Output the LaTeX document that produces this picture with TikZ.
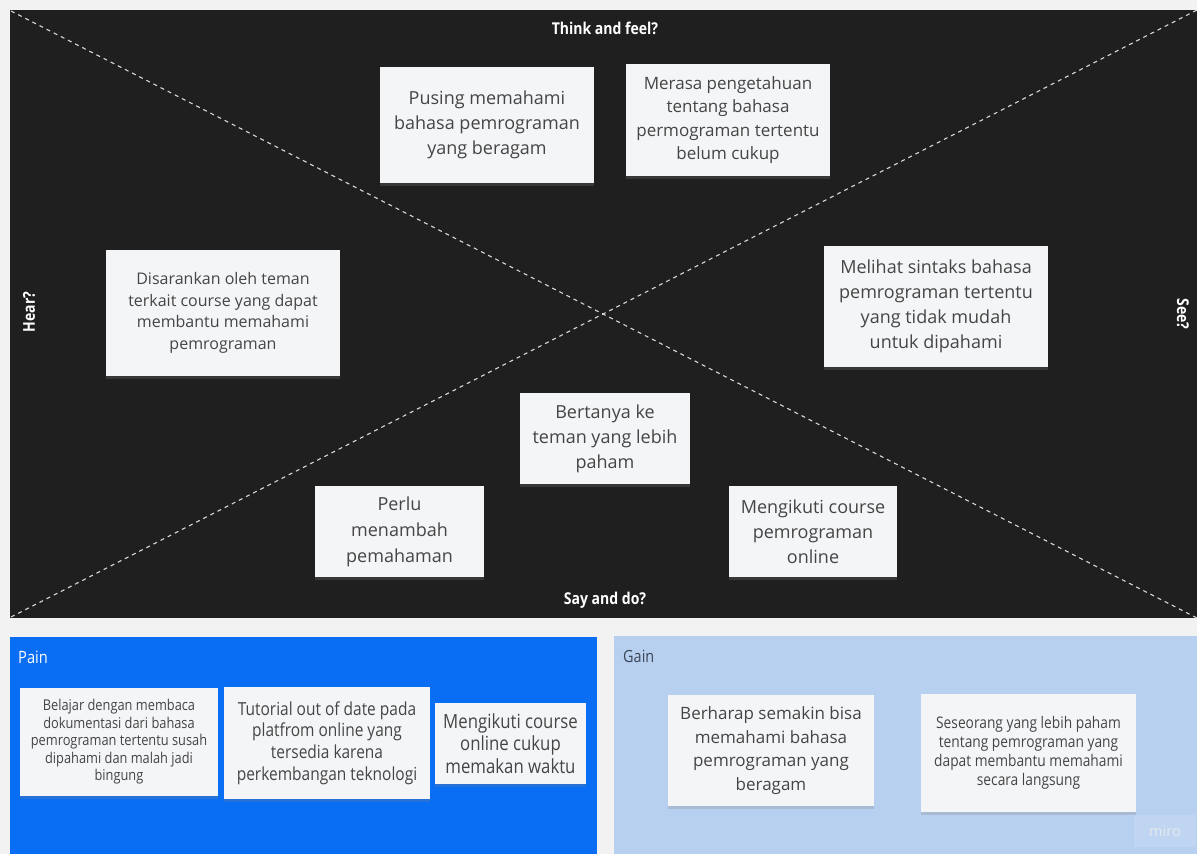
\documentclass[tikz,border=0pt]{standalone}
\usepackage{fontspec}
\setmainfont{Open Sans}
\newfontfamily\condfont[FakeStretch=0.86]{Open Sans}
\usetikzlibrary{shadows}
\definecolor{bg}{HTML}{F2F2F2}
\definecolor{darkpanel}{HTML}{1F1F1F}
\definecolor{painblue}{HTML}{0A6EF5}
\definecolor{gainblue}{HTML}{B7D0F0}
\definecolor{notefill}{HTML}{F4F5F7}
\definecolor{notetext}{HTML}{454545}
\definecolor{gaintext}{HTML}{3B4656}
\definecolor{dashcol}{HTML}{D8D8D8}
\tikzset{
  note/.style={fill=notefill, text=notetext, align=center, inner sep=0pt,
    drop shadow={opacity=0.25, shadow xshift=0pt, shadow yshift=-3pt}},
  diag/.style={draw=dashcol, dash pattern=on 4pt off 4pt, line width=1.1pt},
  title/.style={text=white, font=\condfont\bfseries\fontsize{16.3}{19}\selectfont, inner sep=0pt},
}
\begin{document}
\begin{tikzpicture}[x=1pt,y=-1pt]
\fill[bg] (0,0) rectangle (1197,854);
\useasboundingbox (0,0) rectangle (1197,854);
% panels
\fill[darkpanel] (10,10) rectangle (1197,618);
\fill[painblue] (10,637) rectangle (597,854);
\fill[gainblue] (614,636) rectangle (1197,854);
% diagonals
\coordinate (tl) at (11,11);
\coordinate (br) at (1197,618);
\coordinate (bl) at (11,617);
\coordinate (tr) at (1197,10);
\draw[diag] (tl) -- (br);
\draw[diag] (bl) -- (tr);
% quadrant titles
\node[title] (think) at (605,28) {Think and feel?};
\node[title] (say) at (605,600) {Say and do?};
\node[title, rotate=90] (hear) at (29,312) {Hear?};
\node[title, rotate=-90] (see) at (1183,314) {See?};
% notes in empathy map
\node[note, minimum width=214pt, minimum height=116pt, font=\fontsize{18}{25}\selectfont] (n1) at (487,125)
  {Pusing memahami\\bahasa pemrograman\\yang beragam};
\node[note, minimum width=204pt, minimum height=112pt, font=\fontsize{17}{23.5}\selectfont] (n2) at (728,120)
  {Merasa pengetahuan\\tentang bahasa\\permograman tertentu\\belum cukup};
\node[note, minimum width=234pt, minimum height=126pt, font=\fontsize{16}{21.5}\selectfont] (n3) at (223,313)
  {Disarankan oleh teman\\terkait course yang dapat\\membantu memahami\\pemrograman};
\node[note, minimum width=224pt, minimum height=121pt, font=\fontsize{18}{25}\selectfont] (n4) at (936,306.5)
  {Melihat sintaks bahasa\\pemrograman tertentu\\yang tidak mudah\\untuk dipahami};
\node[note, minimum width=170pt, minimum height=91pt, font=\fontsize{18}{25}\selectfont] (n5) at (605,438.5)
  {Bertanya ke\\teman yang lebih\\paham};
\node[note, minimum width=169pt, minimum height=91pt, font=\fontsize{18}{26}\selectfont] (n6) at (399.5,531.5)
  {Perlu\\menambah\\pemahaman};
\node[note, minimum width=168pt, minimum height=91pt, font=\fontsize{18}{25}\selectfont] (n7) at (813,531.5)
  {Mengikuti course\\pemrograman\\online};
% pain
\node[text=white, anchor=west, inner sep=0pt, font=\condfont\fontsize{17}{19}\selectfont] (pain) at (18,657) {Pain};
\node[note, minimum width=198pt, minimum height=108pt, font=\condfont\fontsize{14.9}{17.5}\selectfont] (n8) at (119,742)
  {Belajar dengan membaca\\dokumentasi dari bahasa\\pemrograman tertentu susah\\dipahami dan malah jadi\\bingung};
\node[note, minimum width=206pt, minimum height=112pt, font=\condfont\fontsize{18}{21.7}\selectfont] (n9) at (327,743)
  {Tutorial out of date pada\\platfrom online yang\\tersedia karena\\perkembangan teknologi};
\node[note, minimum width=151pt, minimum height=81pt, font=\condfont\fontsize{19.5}{22.5}\selectfont] (n10) at (510.5,743.5)
  {Mengikuti course\\online cukup\\memakan waktu};
% gain
\node[text=gaintext, anchor=west, inner sep=0pt, font=\condfont\fontsize{16.8}{19}\selectfont] (gain) at (623,656) {Gain};
\node[note, minimum width=206pt, minimum height=111pt, font=\fontsize{17}{23.5}\selectfont] (n11) at (771,750.5)
  {Berharap semakin bisa\\memahami bahasa\\pemrograman yang\\beragam};
\node[note, minimum width=215pt, minimum height=118pt, font=\condfont\fontsize{16}{19.2}\selectfont] (n12) at (1028.5,753)
  {Seseorang yang lebih paham\\tentang pemrograman yang\\dapat membantu memahami\\secara langsung};
% watermark
\node[fill=white, fill opacity=0.12, text opacity=1, text=white!80!gainblue!90!gray, minimum width=62pt, minimum height=32pt,
  font=\fontsize{14.5}{16}\selectfont] (miro) at (1165,831) {miro};
\end{tikzpicture}
\end{document}
